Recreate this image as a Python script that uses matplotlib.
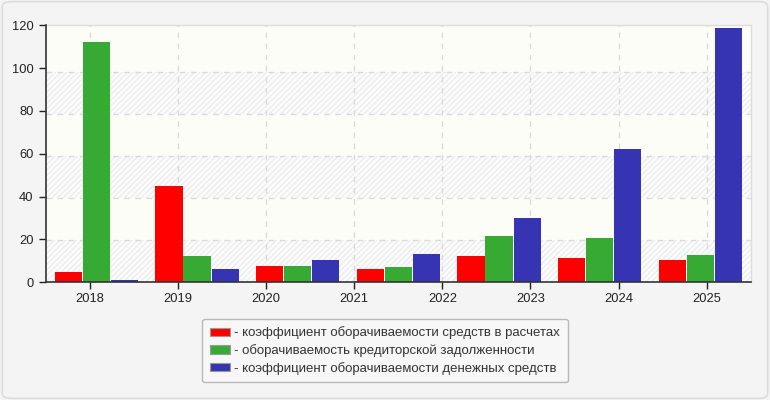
import numpy as np
import matplotlib
matplotlib.use("Agg")
import matplotlib.pyplot as plt
from matplotlib.patches import Patch, FancyBboxPatch

plt.rcParams['font.family'] = ['Liberation Sans', 'DejaVu Sans']
plt.rcParams['hatch.linewidth'] = 0.6
plt.rcParams['hatch.color'] = '#e6e6e6'

# ---- data ----
categories = ['2018', '2019', '2020', '2021', '2022', '2023', '2024', '2025']
series_names = [
    'коэффициент оборачиваемости средств в расчетах',
    'оборачиваемость кредиторской задолженности',
    'коэффициент оборачиваемости денежных средств',
]
red_vals = [4.9, 45.7, 7.7, 6.3, 12.5, 11.5, 10.6]
green_vals = [114.2, 12.5, 7.7, 7.3, 22.0, 21.0, 13.0]
blue_vals = [1.1, 6.3, 10.6, 13.4, 30.5, 63.3, 120.8]
y_tick_labels = ['0', '20', '40', '60', '80', '100', '120']
grid_values = [20, 40, 60, 80, 100]

colors = ['#ff0000', '#37aa34', '#3634b2']

fig = plt.figure(figsize=(7.7, 4.0), dpi=100)
fig.patch.set_facecolor('#f4f4f4')
frame = FancyBboxPatch((0.003, 0.004), 0.994, 0.992, boxstyle='round,pad=0,rounding_size=0.012',
                       transform=fig.transFigure, facecolor='#f4f4f4', edgecolor='#dcdcdc',
                       linewidth=1.2, zorder=-10)
fig.patches.append(frame)

ax = fig.add_axes([46/770, 1-282.3/400, (750.7-46)/770, (282.3-25.3)/400])
ax.set_facecolor('#fdfdf8')

n = len(red_vals)
x = np.arange(n)
ymax = 122.2
ax.set_xlim(-0.5, n - 0.5)
ax.set_ylim(0, ymax)

# alternating bands
bounds = [0] + grid_values + [ymax]
for i in range(len(bounds) - 1):
    if i % 2 == 0:
        ax.axhspan(bounds[i], bounds[i+1], facecolor='#fbfbfb', edgecolor='#e6e6e6',
                   hatch='//////', linewidth=0, zorder=0)

# gridlines
tick_pos = (np.arange(len(categories)) + 0.5) * n / len(categories) - 0.5
for g in grid_values:
    ax.axhline(g, color='#dadada', linestyle=(0, (4, 4)), linewidth=1, zorder=1)
for t in tick_pos:
    ax.axvline(t, color='#dadada', linestyle=(0, (4, 4)), linewidth=1, zorder=1)

w = 0.27
step = 0.279
for k, (vals, c) in enumerate(zip([red_vals, green_vals, blue_vals], colors)):
    ax.bar(x + (k - 1) * step, vals, width=w, color=c, zorder=3, linewidth=0)

ax.set_xticks(tick_pos)
ax.set_xticklabels(categories)
ax.set_yticks(np.linspace(0, ymax, len(y_tick_labels)))
ax.set_yticklabels(y_tick_labels)
ax.tick_params(axis='both', labelsize=9.3, colors='#222222', length=5, width=1)
ax.tick_params(axis='x', pad=3)
ax.tick_params(axis='y', pad=4)

for s in ['left', 'bottom']:
    ax.spines[s].set_color('#333333')
    ax.spines[s].set_linewidth(1.2)
for s in ['top', 'right']:
    ax.spines[s].set_color('#dddddd')
    ax.spines[s].set_linewidth(1)
ax.spines['left'].set_zorder(5)
ax.spines['bottom'].set_zorder(5)

handles = [Patch(facecolor=c, edgecolor='#999999', linewidth=0.8) for c in colors]
labels = ['- ' + s for s in series_names]
leg = fig.legend(handles, labels, loc='center', bbox_to_anchor=(385/770, 1-350.5/400),
                 fontsize=9.5, frameon=True, fancybox=True, handlelength=1.5, handleheight=0.6,
                 handletextpad=0.3, labelspacing=0.35, borderpad=0.6, labelcolor='#333333')
leg.get_frame().set_facecolor('#f8f8f8')
leg.get_frame().set_edgecolor('#aaaaaa')
leg.get_frame().set_linewidth(1)

fig.savefig('out.png', dpi=100, facecolor=fig.get_facecolor())
